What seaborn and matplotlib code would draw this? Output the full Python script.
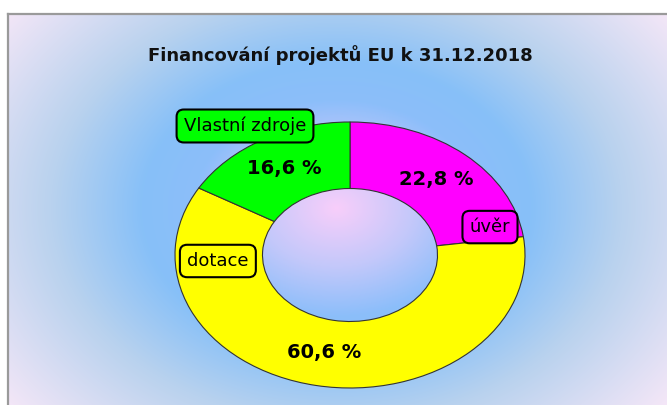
import numpy as np
import matplotlib
matplotlib.use("Agg")
import matplotlib.pyplot as plt
import seaborn as sns

# data
categories = ["úvěr", "dotace", "Vlastní zdroje"]
shares = [22.8, 60.6, 16.6]
slice_colors = ["#ff00ff", "#ffff00", "#00ff00"]
title = "Financování projektů EU k 31.12.2018"

# label box placement (pie data coords, ellipse is stretched by the axes)
label_pos = [(0.80, 0.21), (-0.755, -0.045), (-0.60, 0.97)]

sns.set_theme(style="white")
plt.rcParams["font.family"] = ["DejaVu Sans"]

W, H = 667, 405
fig = plt.figure(figsize=(W / 100, H / 100), dpi=100)
fig.patch.set_facecolor("white")

# background panel with radial gradient
x0, y0 = 8, 14
bg = fig.add_axes([x0 / W, 0, 1 - x0 / W + 0.01, 1 - y0 / H], zorder=0)
xs = np.arange(x0, W + 8) + 0.5
ys = np.arange(y0, H + 8) + 0.5
gx, gy = np.meshgrid(xs, ys)
r = np.sqrt(((gx - 337) / 1.3) ** 2 + (gy - 212) ** 2)
stops_r = [0, 60, 110, 150, 220, 330]
stops_c = np.array([(248, 206, 250), (195, 200, 250), (140, 190, 250),
                    (135, 192, 248), (185, 210, 238), (248, 232, 248)]) / 255
img = np.dstack([np.interp(r, stops_r, stops_c[:, k]) for k in range(3)])
bg.imshow(img, extent=[x0, W + 8, H + 8, y0], aspect="auto", interpolation="bilinear")
bg.set_xlim(x0, W + 8)
bg.set_ylim(H + 8, y0)
bg.set_xticks([])
bg.set_yticks([])
for side in ["right", "bottom"]:
    bg.spines[side].set_visible(False)
for side in ["left", "top"]:
    bg.spines[side].set_color("#9a9a9a")
    bg.spines[side].set_linewidth(1.6)

fig.text(340 / W, 1 - 55 / H, title, ha="center", va="center",
         fontsize=13, fontweight="semibold", color="#111111")

# donut (stretched horizontally like the original)
cx, cy, rx, ry = 350, 255, 175, 133
ax = fig.add_axes([(cx - rx) / W, (H - cy - ry) / H, 2 * rx / W, 2 * ry / H], zorder=1)
ax.patch.set_alpha(0)


def fmt(p):
    return f"{p:.1f}".replace(".", ",") + " %"


wedges, texts = ax.pie(shares, colors=slice_colors, startangle=90, counterclock=False,
                       wedgeprops=dict(width=0.5, edgecolor="#333333", linewidth=0.8))[:2]
for w, val in zip(wedges, shares):
    ang = np.deg2rad((w.theta1 + w.theta2) / 2)
    ax.text(0.75 * np.cos(ang), 0.75 * np.sin(ang), fmt(val), ha="center", va="center",
            fontsize=14, fontweight="bold", color="black")

for name, (lx, ly), col in zip(categories, label_pos, slice_colors):
    ax.text(lx, ly, name, ha="center", va="center", fontsize=13, color="black",
            bbox=dict(boxstyle="round,pad=0.4,rounding_size=0.4", facecolor=col,
                      edgecolor="black", linewidth=1.5))

ax.set_aspect("auto")
ax.set_xlim(-1, 1)
ax.set_ylim(-1, 1)
ax.axis("off")

fig.savefig("out.png", dpi=100)
